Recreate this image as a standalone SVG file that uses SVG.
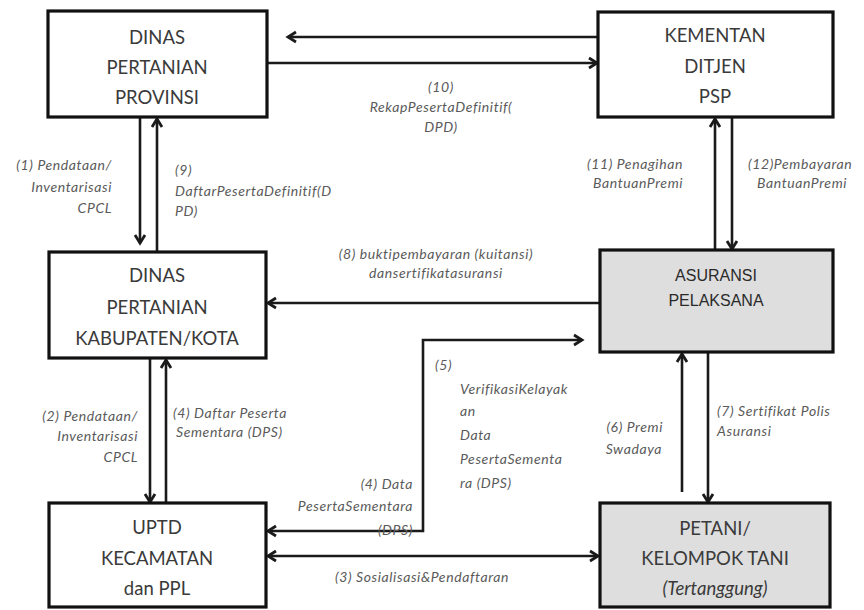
<svg xmlns="http://www.w3.org/2000/svg" width="864" height="610" viewBox="0 0 864 610">
<defs>
<style>
.box{fill:#fff;stroke:#111;stroke-width:3.2}
.grey{fill:#dedede}
.t{font-family:Lato,"Open Sans",sans-serif;font-size:18.5px;fill:#3a3a3a;text-anchor:middle}
.ta{font-family:"Liberation Sans",Arial,sans-serif;font-size:16px;fill:#2a2a2a;text-anchor:middle}
.l{font-family:Lato,"Open Sans",sans-serif;font-style:italic;font-size:14px;letter-spacing:0.6px;fill:#5a5a5a}
.c{fill:none;stroke:#1a1a1a;stroke-width:2.6}
</style>
<marker id="ah" markerUnits="userSpaceOnUse" markerWidth="14" markerHeight="14" refX="10" refY="6" orient="auto-start-reverse" viewBox="0 0 14 12">
<path d="M2,1 L10,6 L2,11" fill="none" stroke="#1a1a1a" stroke-width="2.8"/>
</marker>
</defs>
<rect width="864" height="610" fill="#fff"/>
<g id="connectors">
<path class="c" d="M598,37 H288" marker-end="url(#ah)"/>
<path class="c" d="M267,63 H597" marker-end="url(#ah)"/>
<path class="c" d="M140,117 V243" marker-end="url(#ah)"/>
<path class="c" d="M157,252 V119" marker-end="url(#ah)"/>
<path class="c" d="M600,303 H268" marker-end="url(#ah)"/>
<path class="c" d="M715,250 V119" marker-end="url(#ah)"/>
<path class="c" d="M732,108 V249" marker-end="url(#ah)"/>
<path class="c" d="M150,358 V502" marker-end="url(#ah)"/>
<path class="c" d="M166,502 V360" marker-end="url(#ah)"/>
<path class="c" d="M268,531 H423 V340 H582" marker-start="url(#ah)" marker-end="url(#ah)"/>
<path class="c" d="M268,556 H598" marker-start="url(#ah)" marker-end="url(#ah)"/>
<path class="c" d="M682,492 V354" marker-end="url(#ah)"/>
<path class="c" d="M708,352 V502" marker-end="url(#ah)"/>
</g>
<g id="prov">
<rect class="box" x="48" y="11" width="219" height="106"/>
<text class="t" x="157" y="44">DINAS</text>
<text class="t" x="157" y="74">PERTANIAN</text>
<text class="t" x="157" y="104">PROVINSI</text>
</g>
<g id="kementan">
<rect class="box" x="598" y="12" width="235" height="105"/>
<text class="t" x="715" y="42">KEMENTAN</text>
<text class="t" x="715" y="73">DITJEN</text>
<text class="t" x="715" y="103">PSP</text>
</g>
<g id="kab">
<rect class="box" x="49" y="252" width="217" height="106"/>
<text class="t" x="157" y="282">DINAS</text>
<text class="t" x="157" y="314">PERTANIAN</text>
<text class="t" x="157" y="345">KABUPATEN/KOTA</text>
</g>
<g id="asuransi">
<rect class="box grey" x="600" y="250" width="233" height="102"/>
<text class="ta" x="716" y="281">ASURANSI</text>
<text class="ta" x="716" y="306">PELAKSANA</text>
</g>
<g id="uptd">
<rect class="box" x="49" y="503" width="217" height="104"/>
<text class="t" x="157" y="534">UPTD</text>
<text class="t" x="157" y="565">KECAMATAN</text>
<text class="t" x="157" y="595">dan PPL</text>
</g>
<g id="petani">
<rect class="box grey" x="600" y="503" width="230" height="104"/>
<text class="t" x="715" y="535">PETANI/</text>
<text class="t" x="715" y="565">KELOMPOK TANI</text>
<text class="t" x="715" y="595" font-style="italic">(Tertanggung)</text>
</g>
<g id="labels">
<text class="l" text-anchor="middle" x="441" y="92">(10)</text>
<text class="l" text-anchor="middle" x="441" y="112">RekapPesertaDefinitif(</text>
<text class="l" text-anchor="middle" x="441" y="132">DPD)</text>
<text class="l" text-anchor="end" x="112" y="170">(1) Pendataan/</text>
<text class="l" text-anchor="end" x="112" y="192">Inventarisasi</text>
<text class="l" text-anchor="end" x="112" y="213">CPCL</text>
<text class="l" x="175" y="175">(9)</text>
<text class="l" x="175" y="196">DaftarPesertaDefinitif(D</text>
<text class="l" x="175" y="216">PD)</text>
<text class="l" text-anchor="middle" x="436" y="259">(8) buktipembayaran (kuitansi)</text>
<text class="l" text-anchor="middle" x="436" y="278">dansertifikatasuransi</text>
<text class="l" x="587" y="169">(11)  Penagihan</text>
<text class="l" x="593" y="188">BantuanPremi</text>
<text class="l" x="748" y="169">(12)Pembayaran</text>
<text class="l" x="757" y="188">BantuanPremi</text>
<text class="l" x="435" y="370">(5)</text>
<text class="l" x="460" y="394">VerifikasiKelayak</text>
<text class="l" x="460" y="416">an</text>
<text class="l" x="460" y="440">Data</text>
<text class="l" x="460" y="464">PesertaSementa</text>
<text class="l" x="460" y="488">ra (DPS)</text>
<text class="l" text-anchor="end" x="413" y="489">(4)  Data</text>
<text class="l" text-anchor="end" x="413" y="511">PesertaSementara</text>
<text class="l" text-anchor="end" x="413" y="535">(DPS)</text>
<text class="l" text-anchor="end" x="138" y="421">(2) Pendataan/</text>
<text class="l" text-anchor="end" x="138" y="441">Inventarisasi</text>
<text class="l" text-anchor="end" x="138" y="462">CPCL</text>
<text class="l" x="173" y="418">(4) Daftar Peserta</text>
<text class="l" x="176" y="437">Sementara (DPS)</text>
<text class="l" text-anchor="middle" x="422" y="582">(3) Sosialisasi&amp;Pendaftaran</text>
<text class="l" text-anchor="end" x="663" y="432">(6)  Premi</text>
<text class="l" text-anchor="end" x="662" y="454">Swadaya</text>
<text class="l" x="717" y="416">(7) Sertifikat Polis</text>
<text class="l" x="717" y="436">Asuransi</text>
</g>
</svg>
